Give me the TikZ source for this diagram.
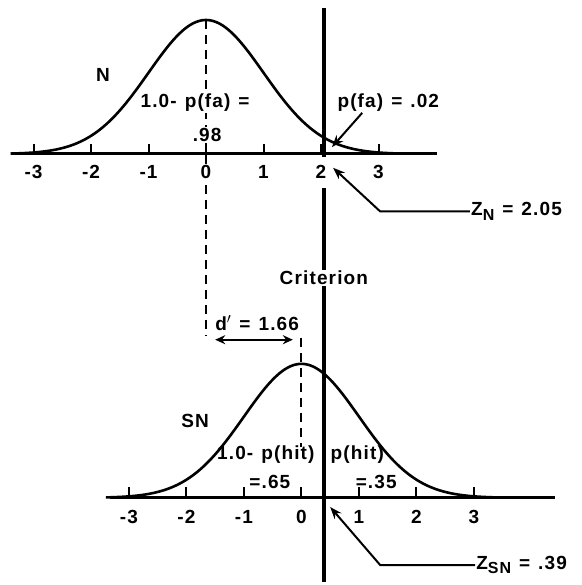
\documentclass[tikz,border=0pt]{standalone}
\usepackage{fontspec}
\setmainfont{Liberation Sans}[LetterSpace=6, WordSpace=1.25]
\usetikzlibrary{arrows.meta}
\newcommand{\lblsize}{\fontsize{19}{22}\selectfont\bfseries}
\newcommand{\lowsub}[1]{\raisebox{-0.45ex}{\fontsize{16}{16}\selectfont #1}}

\begin{document}
\begin{tikzpicture}[x=57.5pt, y=57.5pt,
    curve/.style={line width=2.6pt},
    axisline/.style={line width=3pt},
    tickmark/.style={line width=2pt},
    meanline/.style={line width=2pt, dash pattern=on 9pt off 6pt},
    critline/.style={line width=4.5pt},
    lbl/.style={font=\lblsize, inner sep=1pt},
    cover/.style={lbl, fill=white},
    callout/.style={line width=2pt, -{Stealth[length=12pt,width=9pt]}}]
  \useasboundingbox (-3.583,-7.496) rectangle (6.522,2.678);

  % N distribution, mean at the origin
  \draw[meanline] (0,2.33) -- (0,-3.15);
  \draw[curve] plot[domain=-3.4:3.4, samples=80, smooth] (\x, {2.33*exp(-\x*\x/2)});
  \draw[axisline] (-3.37,0) -- (4.02,0);
  \foreach \t in {-3,...,3} {
    \draw[tickmark] (\t,0) -- ++(0,0.18);
    \node[cover] (nt\t) at (\t,-0.31) {\t};
  }
  \node[lbl] (nLbl) at (-1.79,1.37) {N};
  \node[cover] (faRest) at (-0.19,0.89) {1.0- p(fa) =};
  \node[cover] (faRestVal) at (0.02,0.33) {.98};
  \node[lbl] (faLbl) at (3.17,0.89) {p(fa) = .02};
  \coordinate (faTip) at (2.19,0.12);
  \draw[callout] (faLbl.south west) ++(0.45,0) -- (faTip);

  % criterion, z = 2.05 on the N axis
  \node[lbl] (crit) at (2.05,-2.16) {Criterion};
  \coordinate (critTop) at (2.05,2.54);
  \coordinate (critBot) at (2.05,-7.45);
  \draw[critline] (critTop) -- (2.05,-0.05);
  \draw[critline] (2.05,-0.6) -- (crit.north);
  \draw[critline] (crit.south) -- (critBot);

  % Z_N callout
  \node[lbl, anchor=west] (zn) at (4.59,-1.0) {Z\lowsub{N} = 2.05};
  \coordinate (znBend) at (3.03,-1.0);
  \coordinate (znTip) at (2.21,-0.24);
  \draw[callout] (zn.west) -- (znBend) -- (znTip);

  % d' between the two means
  \node[lbl] (dLbl) at (0.89,-2.94) {d$'$ = 1.66};
  \coordinate (dL) at (0.16,-3.23);
  \coordinate (dR) at (1.51,-3.23);
  \draw[line width=2pt, {Stealth[length=10pt,width=9pt]}-{Stealth[length=10pt,width=9pt]}] (dL) -- (dR);

  % SN distribution, mean at d' = 1.66
  \begin{scope}[shift={(1.66,-5.98)}]
    \draw[meanline] (0,2.78) -- (0,0.88);
    \draw[curve] plot[domain=-3.4:3.4, samples=80, smooth] (\x, {2.33*exp(-\x*\x/2)});
    \draw[axisline] (-3.33,0) -- (4.41,0);
    \foreach \t in {-3,...,3} {
      \draw[tickmark] (\t,0) -- ++(0,0.18);
      \node[lbl] (st\t) at (\t,-0.33) {\t};
    }
  \end{scope}
  \node[lbl] (snLbl) at (-0.19,-4.64) {SN};
  \node[lbl] (missLbl) at (1.04,-5.23) {1.0- p(hit)};
  \node[lbl] (hitLbl) at (2.63,-5.23) {p(hit)};
  \node[lbl] (missVal) at (1.11,-5.70) {=.65};
  \node[lbl] (hitVal) at (2.96,-5.70) {=.35};

  % Z_SN callout
  \node[lbl, anchor=west] (zsn) at (4.68,-7.15) {Z\lowsub{SN} = .39};
  \coordinate (zsnBend) at (3.03,-7.15);
  \coordinate (zsnTip) at (2.16,-6.14);
  \draw[callout] (zsn.west) -- (zsnBend) -- (zsnTip);
\end{tikzpicture}
\end{document}
